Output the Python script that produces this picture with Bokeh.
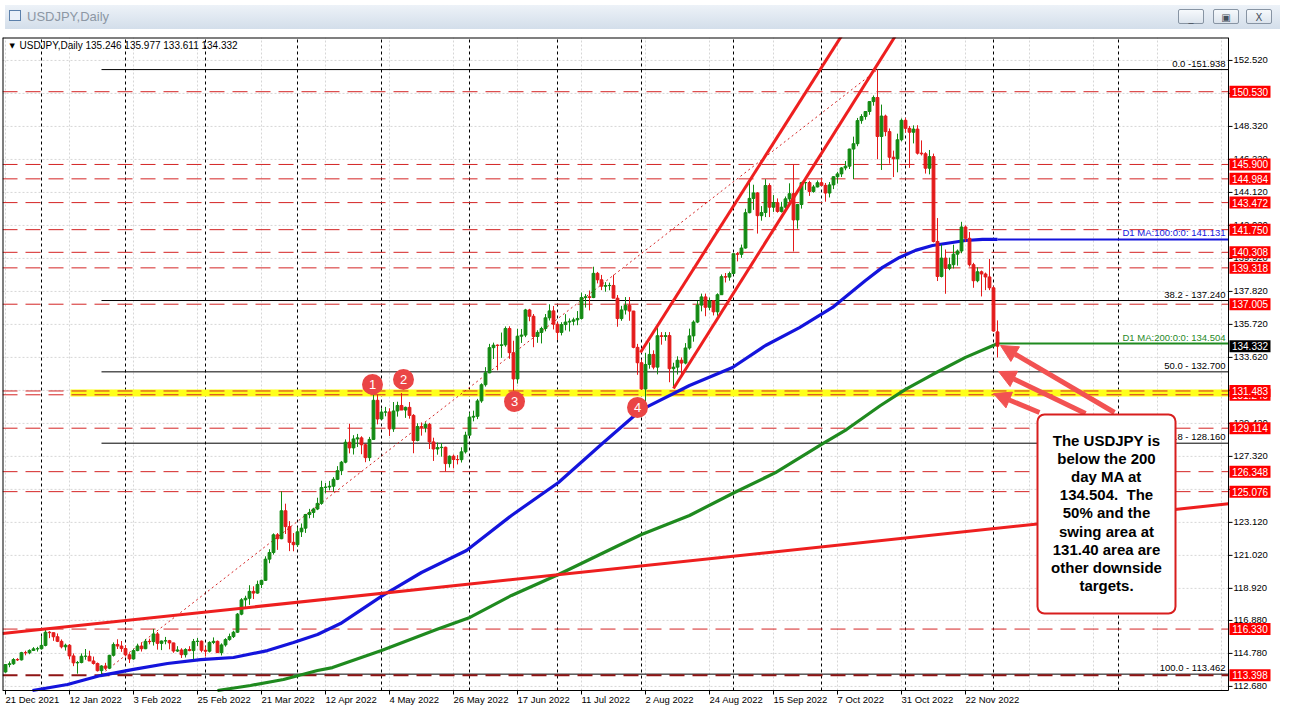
from bokeh.plotting import figure
from bokeh.models import (Range1d, Label, BoxAnnotation, Arrow, NormalHead, Div, ColumnDataSource)
from bokeh.layouts import column
from bokeh.embed import file_html
from bokeh.resources import INLINE
from bokeh.core.properties import value

# ---------------- data ----------------
x_tick_idx = [0, 16, 32, 48, 64, 80, 96, 112, 128, 144, 160, 176, 192, 208, 224, 240]
x_tick_labels = ["21 Dec 2021", "12 Jan 2022", "3 Feb 2022", "25 Feb 2022", "21 Mar 2022",
                 "12 Apr 2022", "4 May 2022", "26 May 2022", "17 Jun 2022", "11 Jul 2022",
                 "2 Aug 2022", "24 Aug 2022", "15 Sep 2022", "7 Oct 2022", "31 Oct 2022",
                 "22 Nov 2022"]
y_ticks = [152.52, 150.42, 148.32, 146.22, 144.12, 142.02, 139.92, 137.82, 135.72, 133.62,
           131.52, 129.42, 127.32, 125.22, 123.12, 121.02, 118.92, 116.88, 114.78, 112.68]
grid_x_idx = [0, 16, 32, 48, 64, 80, 96, 112, 128, 144, 160, 176, 192, 208, 224, 240,
              256, 272, 288, 304]
separator_idx = [9, 30, 50, 73, 94, 116, 138, 159, 182, 204, 225, 247, 278.25]

opens = [
    113.60, 114.07, 114.12, 114.39, 114.37, 114.83, 114.82, 114.97, 115.07,
    115.08, 115.29, 116.13, 116.10, 115.84, 115.55, 115.20, 115.30, 114.62, 114.18, 114.20, 114.60, 114.60, 114.30, 114.14, 113.68, 113.98, 113.84, 114.66, 115.35, 115.25,
    115.09, 114.69, 114.43, 114.96, 115.25, 115.08, 115.55, 115.53, 116.02, 115.42, 115.57, 115.59, 115.45, 114.93, 115.00, 114.70, 115.03, 114.96, 115.54, 115.56,
    114.98, 114.92, 115.48, 115.55, 114.83, 115.32, 115.66, 115.85, 116.13, 117.28, 118.19, 118.29, 118.73, 118.62, 119.17, 119.43, 120.78, 121.20, 122.33, 122.08, 123.86, 122.85, 121.85,
    121.70, 122.52, 122.75, 123.62, 123.75, 123.97, 124.33, 125.34, 125.37, 125.42, 125.86, 126.41, 126.95, 128.22, 127.86, 128.43, 128.50, 128.06, 127.24, 128.40, 130.89,
    129.70, 130.14, 130.15, 129.07, 130.21, 130.56, 130.27, 130.44, 129.93, 128.33, 129.22, 129.16, 129.36, 128.24, 127.79, 127.88, 127.90, 126.86, 127.33, 127.12, 127.11, 127.61,
    128.67, 129.82, 129.87, 130.85, 131.88, 132.64, 134.24, 134.40, 134.38, 134.42, 135.46, 133.92, 132.25, 134.97, 135.04, 136.64, 136.24, 134.95, 135.21, 135.46, 136.14, 136.58,
    135.73, 135.21, 135.71, 135.87, 135.92, 136.01, 136.10, 137.43, 137.48, 137.43, 138.97, 138.56, 138.15, 138.19, 138.20, 137.39, 136.09, 136.64, 136.93, 136.57, 134.26,
    133.28, 131.61, 133.17, 133.81, 133.00, 135.00, 134.95, 135.01, 132.90, 133.00, 133.44, 133.26, 134.22, 134.99, 135.87, 136.95, 137.47, 136.81, 137.22, 136.52, 137.61, 138.76, 138.73,
    138.96, 140.22, 140.18, 140.58, 142.83, 143.74, 144.09, 142.64, 142.84, 144.56, 143.18, 143.47, 142.91, 143.18, 143.71, 144.04, 142.37, 143.35, 144.74, 144.75, 144.18, 144.47,
    144.74, 144.57, 144.08, 144.60, 145.12, 145.30, 145.68, 145.79, 146.88, 147.22, 148.69, 148.95, 149.27, 149.90, 150.16, 147.68, 148.98, 147.99, 146.36, 146.26, 147.47,
    148.71, 148.20, 147.95, 148.15, 146.62, 146.58, 145.66, 146.40, 141.00, 138.77, 139.94, 139.29, 139.52, 140.19, 140.39, 141.92, 141.20, 139.52, 138.50, 139.07, 138.93, 138.74,
    138.05, 135.246]
highs = [
    114.10, 114.27, 114.48, 114.48, 114.88, 114.95, 115.04, 115.18, 115.20,
    115.88, 116.35, 116.20, 116.10, 116.05, 115.67, 115.40, 115.38, 114.78, 114.30, 114.78, 115.06, 114.95, 114.58, 114.20, 114.03, 114.18, 114.69, 115.48, 115.68, 115.57,
    115.30, 114.79, 115.08, 115.40, 115.48, 115.70, 115.72, 116.34, 116.14, 115.60, 115.83, 115.64, 115.46, 115.24, 115.11, 115.11, 115.24, 115.70, 115.76, 115.60,
    115.23, 115.55, 115.80, 115.60, 115.42, 115.75, 116.04, 116.22, 117.35, 118.30, 118.45, 119.12, 119.05, 119.41, 119.47, 120.96, 121.41, 122.42, 122.44, 125.09, 124.31, 123.20, 122.44,
    122.80, 123.05, 123.66, 123.98, 124.05, 124.69, 125.77, 125.63, 125.76, 126.00, 126.70, 127.03, 128.40, 129.40, 128.67, 128.75, 128.60, 128.13, 128.56, 131.25, 131.25,
    130.38, 130.47, 130.38, 130.78, 130.80, 131.35, 130.49, 130.78, 130.01, 129.43, 129.48, 129.49, 129.45, 128.51, 128.20, 128.17, 127.94, 127.38, 127.44, 127.40, 127.90, 128.89,
    130.11, 130.23, 130.98, 131.97, 133.00, 134.48, 134.56, 134.45, 135.20, 135.59, 135.60, 134.68, 135.44, 135.43, 136.71, 136.71, 136.38, 135.35, 135.57, 136.38, 137.00, 136.89,
    135.86, 135.86, 136.37, 136.10, 136.15, 136.57, 137.75, 137.65, 137.88, 139.39, 139.06, 138.87, 138.41, 138.38, 138.88, 137.59, 136.90, 137.46, 137.46, 136.58, 134.48,
    133.48, 133.91, 134.57, 134.07, 135.50, 135.23, 135.23, 135.23, 133.28, 133.69, 133.62, 134.53, 135.45, 135.98, 137.22, 137.68, 137.68, 137.43, 137.26, 137.70, 138.90, 138.99, 139.08,
    140.23, 140.33, 140.80, 143.08, 144.99, 144.61, 144.14, 143.25, 144.96, 144.70, 143.95, 143.74, 143.52, 143.86, 144.70, 145.90, 143.39, 144.79, 144.78, 144.86, 144.60, 144.88,
    145.00, 144.72, 144.78, 145.15, 145.43, 145.73, 146.12, 146.90, 147.67, 148.86, 149.10, 149.30, 149.92, 150.29, 151.94, 149.71, 149.07, 148.19, 146.78, 147.86, 148.83,
    148.86, 148.35, 148.39, 148.40, 147.43, 146.68, 146.82, 146.59, 142.49, 140.80, 140.49, 139.97, 140.79, 140.49, 142.25, 142.02, 141.60, 139.64, 139.35, 139.15, 139.02, 139.89,
    138.15, 135.977]
lows = [
    113.55, 113.90, 114.05, 114.30, 114.33, 114.66, 114.73, 114.93, 114.90,
    115.02, 115.23, 115.75, 115.58, 115.50, 115.10, 114.96, 114.40, 113.97, 113.49, 114.15, 114.38, 114.30, 114.07, 113.63, 113.47, 113.72, 113.78, 114.58, 115.06, 114.88,
    114.58, 114.17, 114.38, 114.92, 114.90, 115.05, 115.36, 115.28, 115.02, 114.99, 115.36, 115.04, 114.82, 114.87, 114.49, 114.52, 114.92, 114.40, 115.25, 114.85,
    114.58, 114.84, 115.37, 114.82, 114.65, 115.21, 115.59, 115.76, 116.09, 117.21, 117.70, 117.87, 118.24, 118.58, 118.94, 119.39, 120.52, 121.07, 121.37, 122.05, 122.38, 121.29, 121.28,
    121.56, 122.19, 122.45, 123.38, 123.41, 123.90, 124.24, 124.97, 125.16, 125.08, 125.81, 126.13, 126.88, 127.51, 127.44, 127.92, 127.46, 126.95, 127.02, 128.39, 129.36,
    129.67, 129.87, 128.62, 128.88, 129.85, 130.29, 129.77, 129.72, 127.52, 128.28, 128.64, 128.85, 127.79, 127.03, 127.43, 127.30, 126.36, 126.61, 126.56, 126.81, 126.93, 127.50,
    128.63, 129.55, 129.69, 130.73, 131.76, 132.61, 133.52, 132.80, 133.59, 134.30, 133.53, 131.49, 131.95, 134.54, 134.91, 135.92, 134.27, 134.55, 134.51, 135.28, 135.97, 135.40,
    134.74, 135.02, 135.34, 135.27, 135.66, 135.67, 136.03, 136.79, 136.61, 137.39, 138.33, 137.90, 137.80, 137.89, 137.39, 135.57, 135.95, 136.35, 135.95, 134.20, 132.51,
    131.60, 130.41, 132.90, 132.86, 132.54, 134.43, 134.68, 132.04, 131.73, 132.53, 132.56, 133.18, 134.11, 134.62, 135.80, 136.55, 136.24, 136.62, 136.29, 136.27, 137.60, 138.39, 138.50,
    138.91, 139.73, 139.96, 140.54, 142.79, 143.01, 141.50, 142.32, 142.55, 142.55, 142.88, 142.83, 142.84, 143.03, 143.47, 140.36, 141.81, 143.09, 144.28, 143.90, 144.10, 144.44,
    144.53, 143.53, 143.80, 144.33, 144.68, 145.10, 145.53, 145.61, 144.97, 147.06, 148.49, 148.75, 149.06, 149.64, 146.23, 145.55, 147.70, 145.95, 145.10, 145.40, 147.37,
    147.93, 145.68, 147.24, 146.53, 146.47, 145.32, 145.27, 140.94, 138.48, 138.71, 137.67, 139.17, 139.28, 139.46, 140.25, 140.98, 139.40, 138.05, 138.40, 137.50, 137.90, 137.90,
    135.25, 133.611]
closes = [
    114.07, 114.12, 114.39, 114.37, 114.83, 114.82, 114.97, 115.07, 115.08,
    115.29, 116.13, 116.10, 115.84, 115.55, 115.20, 115.30, 114.62, 114.18, 114.20, 114.60, 114.60, 114.30, 114.14, 113.68, 113.98, 113.84, 114.66, 115.35, 115.25, 115.09,
    114.69, 114.43, 114.96, 115.25, 115.08, 115.55, 115.53, 116.02, 115.42, 115.57, 115.59, 115.45, 114.93, 115.00, 114.70, 115.03, 114.96, 115.54, 115.56, 114.98,
    114.92, 115.48, 115.55, 114.83, 115.32, 115.66, 115.85, 116.13, 117.28, 118.19, 118.29, 118.73, 118.62, 119.17, 119.43, 120.78, 121.20, 122.33, 122.08, 123.86, 122.85, 121.85, 121.70,
    122.52, 122.75, 123.62, 123.75, 123.97, 124.33, 125.34, 125.37, 125.42, 125.86, 126.41, 126.95, 128.22, 127.86, 128.43, 128.50, 128.06, 127.24, 128.40, 130.89, 129.70,
    130.14, 130.15, 129.07, 130.21, 130.56, 130.27, 130.44, 129.93, 128.33, 129.22, 129.16, 129.36, 128.24, 127.79, 127.88, 127.90, 126.86, 127.33, 127.12, 127.11, 127.61, 128.67,
    129.82, 129.87, 130.85, 131.88, 132.64, 134.24, 134.40, 134.38, 134.42, 135.46, 133.92, 132.25, 134.97, 135.04, 136.64, 136.24, 134.95, 135.21, 135.46, 136.14, 136.58, 135.73,
    135.21, 135.71, 135.87, 135.92, 136.01, 136.10, 137.43, 137.48, 137.43, 138.97, 138.56, 138.15, 138.19, 138.20, 137.39, 136.09, 136.64, 136.93, 136.57, 134.26, 133.28,
    131.61, 133.17, 133.81, 133.00, 135.00, 134.95, 135.01, 132.90, 133.00, 133.44, 133.26, 134.22, 134.99, 135.87, 136.95, 137.47, 136.81, 137.22, 136.52, 137.61, 138.76, 138.73, 138.96,
    140.22, 140.18, 140.58, 142.83, 143.74, 144.09, 142.64, 142.84, 144.56, 143.18, 143.47, 142.91, 143.18, 143.71, 144.04, 142.37, 143.35, 144.74, 144.75, 144.18, 144.47, 144.74,
    144.57, 144.08, 144.60, 145.12, 145.30, 145.68, 145.79, 146.88, 147.22, 148.69, 148.95, 149.27, 149.90, 150.16, 147.68, 148.98, 147.99, 146.36, 146.26, 147.47, 148.71,
    148.20, 147.95, 148.15, 146.62, 146.58, 145.66, 146.40, 141.00, 138.77, 139.94, 139.29, 139.52, 140.19, 140.39, 141.92, 141.20, 139.52, 138.50, 139.07, 138.93, 138.74, 138.05,
    135.30, 134.332]

# moving averages (bar index, value)
ma100_idx = [6.75, 15.5, 23.75, 32, 40.5, 48.75, 57, 65.5, 72, 78, 83.75, 94.25, 104, 115.25, 126.5,
             138.25, 149.5, 159, 171, 181.75, 190, 198.5, 206.75, 215, 219.25, 223.5, 227.5, 231.75,
             240, 244.25, 248]
ma100_val = [112.42, 112.80, 113.37, 113.76, 114.14, 114.39, 114.52, 114.96, 115.47, 115.98, 116.68,
             118.46, 119.93, 121.33, 123.56, 125.66, 128.20, 130.30, 131.83, 132.98, 134.38, 135.52,
             136.80, 138.52, 139.35, 139.98, 140.43, 140.74, 141.06, 141.13, 141.131]
ma200_idx = [53, 61.25, 69.5, 78, 81.75, 94, 107.75, 116.1, 126.5, 138.25, 153.25, 159, 171, 182.25,
             192.5, 204, 210.25, 218.75, 225, 231.75, 240, 247.5, 248]
ma200_val = [112.42, 112.74, 113.12, 113.69, 113.88, 114.96, 116.30, 117.07, 118.47, 119.80, 121.65,
             122.35, 123.56, 125.02, 126.29, 128.08, 129.03, 130.56, 131.58, 132.53, 133.62, 134.44,
             134.504]
ma100_last = 141.131
ma200_last = 134.504

# drawn objects
trend_idx = [-0.75, 305.75]
trend_val = [116.05, 124.30]
channel_a_idx = [158.75, 211.3]
channel_a_val = [133.93, 155.0]
channel_b_idx = [167.0, 224.0]
channel_b_val = [131.64, 154.7]
fib_start_idx = 24
fib_end_idx = 218
fib_levels = [151.938, 137.240, 132.700, 128.160, 113.462]
fib_texts = ["0.0 -151.938", "38.2 - 137.240", "50.0 - 132.700", "61.8 - 128.160", "100.0 - 113.462"]
red_levels = [150.530, 145.900, 144.984, 143.472, 141.750, 140.308, 139.318, 137.005,
              131.240, 131.483, 129.114, 126.348, 125.076, 116.330]
dark_level = 113.398
swing_zone = 131.36
marker_idx = [91.75, 99.5, 127.25, 158.0]
marker_val = [131.90, 132.22, 130.81, 130.43]
marker_labels = ["1", "2", "3", "4"]
box_lines = ["The USDJPY is", "below the 200", "day MA at", "134.504.\u00a0 The", "50% and the",
             "swing area at", "131.40 area are", "other downside", "targets."]

# ---------------- geometry (page pixels -> data) ----------------
BORDER_L, BORDER_T, BORDER_R, BORDER_B = 10, 35, 1236, 688
PAGE_R, PAGE_B = 1283, 711
X0, PXB = -0.75, 4.0
Y_TOP = 153.98
PPU = 653 / (153.98 - 112.42)


def sx(px):
    return X0 + (px - BORDER_L) / PXB


def sy(py):
    return Y_TOP - (py - BORDER_T) / PPU


X_L, X_R = sx(BORDER_L), sx(BORDER_R)
Y_T, Y_B = sy(BORDER_T), sy(BORDER_B)

FONT = "Liberation Sans"
BULL, BEAR = "#128a12", "#e41a1a"
RED = "#ee1f1f"

p = figure(frame_width=PAGE_R - BORDER_L, frame_height=PAGE_B - BORDER_T,
           x_range=Range1d(X_L, sx(PAGE_R)), y_range=Range1d(sy(PAGE_B), Y_T),
           x_axis_location=None, y_axis_location=None,
           output_backend="svg", toolbar_location=None,
           min_border_left=2, min_border_right=0, min_border_top=0, min_border_bottom=0,
           outline_line_color=None,
           background_fill_color="white", border_fill_color="white")
p.grid.visible = False

# light grid
p.segment(x0=grid_x_idx, x1=grid_x_idx, y0=Y_B, y1=Y_T, line_color="#d6d6d6",
          line_dash="2 2", line_width=1)
p.segment(x0=X_L, x1=X_R, y0=y_ticks, y1=y_ticks, line_color="#d6d6d6",
          line_dash="2 2", line_width=1)

# period separators
p.segment(x0=separator_idx, x1=separator_idx, y0=Y_B, y1=Y_T,
          line_color="black", line_dash="3 3", line_width=1)

# swing zone highlight
p.segment(x0=sx(78), x1=X_R, y0=swing_zone, y1=swing_zone, line_color="#ffff1a", line_width=7)

# horizontal levels
p.segment(x0=X_L, x1=X_R, y0=red_levels, y1=red_levels, line_color="#d42424",
          line_dash="15 8", line_width=1)
p.segment(x0=fib_start_idx, x1=X_R, y0=fib_levels, y1=fib_levels, line_color="black", line_width=1)
p.segment(x0=X_L, x1=X_R, y0=dark_level, y1=dark_level, line_color="#8e1414",
          line_dash="15 8", line_width=2)
p.line([fib_start_idx, fib_end_idx], [fib_levels[-1], fib_levels[0]], line_color="#d42424",
       line_dash="2 3", line_width=1)

# moving averages
p.line(ma100_idx, ma100_val, line_color="#1414dc", line_width=3.2)
p.segment(x0=ma100_idx[-1], x1=X_R, y0=ma100_last, y1=ma100_last, line_color="#1414dc", line_width=2)
p.line(ma200_idx, ma200_val, line_color="#1f8a1f", line_width=3.2)
p.segment(x0=ma200_idx[-1], x1=X_R, y0=ma200_last, y1=ma200_last, line_color="#1f8a1f", line_width=2)

# candles
idx = list(range(len(closes)))
colors = [BULL if c >= o else BEAR for o, c in zip(opens, closes)]
src = ColumnDataSource(dict(x=idx, o=opens, h=highs, l=lows, c=closes,
                            top=[max(o, c) for o, c in zip(opens, closes)],
                            bot=[min(o, c) for o, c in zip(opens, closes)],
                            col=colors))
p.segment(x0="x", x1="x", y0="l", y1="h", line_color="col", line_width=1, source=src)
p.vbar(x="x", width=0.7, top="top", bottom="bot", fill_color="col", line_color="col",
       line_width=1, source=src)

# trend line and channel
p.line(trend_idx, trend_val, line_color=RED, line_width=3)
p.line(channel_a_idx, channel_a_val, line_color=RED, line_width=3)
p.line(channel_b_idx, channel_b_val, line_color=RED, line_width=3)

# numbered markers
p.scatter(marker_idx, marker_val, size=21, fill_color="#ea4545", line_color=None)
p.text(marker_idx, marker_val, text=marker_labels, text_color="white",
       text_font=value(FONT), text_font_size="13px", text_align="center",
       text_baseline="middle")

# chart border (drawn after the plot so it sits on top)
p.segment(x0=[X_L, X_L, X_L, X_R], x1=[X_R, X_R, X_L, X_R],
          y0=[Y_T, Y_B, Y_B, Y_B], y1=[Y_T, Y_B, Y_T, Y_T],
          line_color="black", line_width=[2, 1, 2, 1])

# bottom scale: tick marks and labels
p.segment(x0=x_tick_idx, x1=x_tick_idx, y0=Y_B, y1=sy(BORDER_B + 4), line_color="black", line_width=1)
p.text(x=x_tick_idx, y=sy(BORDER_B + 3.5), text=x_tick_labels, text_align="left",
       text_baseline="top", text_font=value(FONT), text_font_size="9.5px", text_color="black")

# right scale: tick marks and labels
p.segment(x0=X_R, x1=sx(BORDER_R + 4), y0=y_ticks, y1=y_ticks, line_color="black", line_width=1)
p.text(x=sx(BORDER_R + 5), y=y_ticks, text=["%.3f" % v for v in y_ticks], text_align="left",
       text_baseline="middle", text_font=value(FONT), text_font_size="9.5px", text_color="black")

# price boxes on the right scale, each box drawn with its own text so overlaps stack correctly
BOX_X = sx(1257.5)
box_specs = [(v, "#ff0000") for v in red_levels + [dark_level]] + [(closes[-1], "black")]
for v, fc in box_specs:
    p.rect(x=BOX_X, y=v, width=41, height=12, width_units="screen", height_units="screen",
           fill_color=fc, line_color=None)
    p.text(x=[BOX_X], y=[v], text=["%.3f" % v], text_align="center", text_baseline="middle",
           text_font=value(FONT), text_font_size="10px", text_color="white")

# texts inside the chart
p.add_layout(Label(x=sx(17), y=sy(43), text="\u25bc", text_font="DejaVu Sans",
                   text_font_size="7px", text_color="black", text_baseline="middle"))
p.add_layout(Label(x=sx(27), y=sy(43),
                   text="USDJPY,Daily  %.3f %.3f %.3f %.3f" % (opens[-1], highs[-1], lows[-1], closes[-1]),
                   text_font=FONT, text_font_size="10px", text_color="black",
                   text_baseline="middle"))
for lv, t in zip(fib_levels, fib_texts):
    p.add_layout(Label(x=sx(1233), y=lv, text=t, text_align="right", text_baseline="bottom",
                       y_offset=1, text_font=FONT, text_font_size="9.5px", text_color="black"))
p.add_layout(Label(x=sx(1233), y=ma100_last, text="D1 MA:100:0:0: %.3f" % ma100_last,
                   text_align="right", text_baseline="bottom", y_offset=1, text_font=FONT,
                   text_font_size="9.5px", text_color="#1414dc"))
p.add_layout(Label(x=sx(1233), y=ma200_last, text="D1 MA:200:0:0: %.3f" % ma200_last,
                   text_align="right", text_baseline="bottom", y_offset=1, text_font=FONT,
                   text_font_size="9.5px", text_color="#1f8a1f"))

# arrows to the levels
ARROW = "#f25252"
for (tx, ty, hx, hy) in [(1122, 410, 1008, 343), (1093, 411, 1006, 369), (1047, 410, 1001, 391)]:
    p.add_layout(Arrow(end=NormalHead(size=17, fill_color=ARROW, line_color=ARROW),
                       x_start=sx(tx), y_start=sy(ty), x_end=sx(hx), y_end=sy(hy),
                       line_color=ARROW, line_width=5))

# comment box
p.add_layout(BoxAnnotation(left=sx(1045), right=sx(1183), top=sy(412), bottom=sy(611),
                           fill_color="white", fill_alpha=1.0, line_color="#d81e1e",
                           line_width=2, line_alpha=1.0, border_radius=7))
for k, t in enumerate(box_lines):
    p.add_layout(Label(x=sx(1114), y=sy(438 + 18.1 * k), text=t, text_align="center",
                       text_baseline="middle", text_font=FONT, text_font_size="15px",
                       text_font_style="bold", text_color="black"))

# window chrome (title bar)
btn = ('position:absolute;top:4px;width:26px;height:15px;border:1px solid #8794a3;'
       'border-radius:2px;background:linear-gradient(#f6f9fc,#dce4ed);font-size:10px;'
       'color:#45505c;text-align:center;line-height:15px;font-family:DejaVu Sans,sans-serif;')
chrome_html = (
    '<div style="position:relative;width:1275px;height:27px;background:white;">'
    '<div style="position:absolute;left:0;top:0;width:1275px;height:24px;'
    'background:linear-gradient(#edf2f8,#d3deea);font-family:Liberation Sans,sans-serif;">'
    '<div style="position:absolute;left:4px;top:5px;width:12px;height:11px;'
    'border:1px solid #5b80ab;background:#eaf1fa;"></div>'
    '<span style="position:absolute;left:22px;top:3px;font-size:13px;color:#8c97a4;">USDJPY,Daily</span>'
    '<div style="' + btn + 'left:1173px;">_</div>'
    '<div style="' + btn + 'left:1208px;">&#9635;</div>'
    '<div style="' + btn + 'left:1241px;">X</div>'
    '</div></div>')
chrome = Div(text=chrome_html, width=1275, height=27)

layout = column(chrome, p, spacing=0)
open("out.html", "w").write(file_html(layout, INLINE))
